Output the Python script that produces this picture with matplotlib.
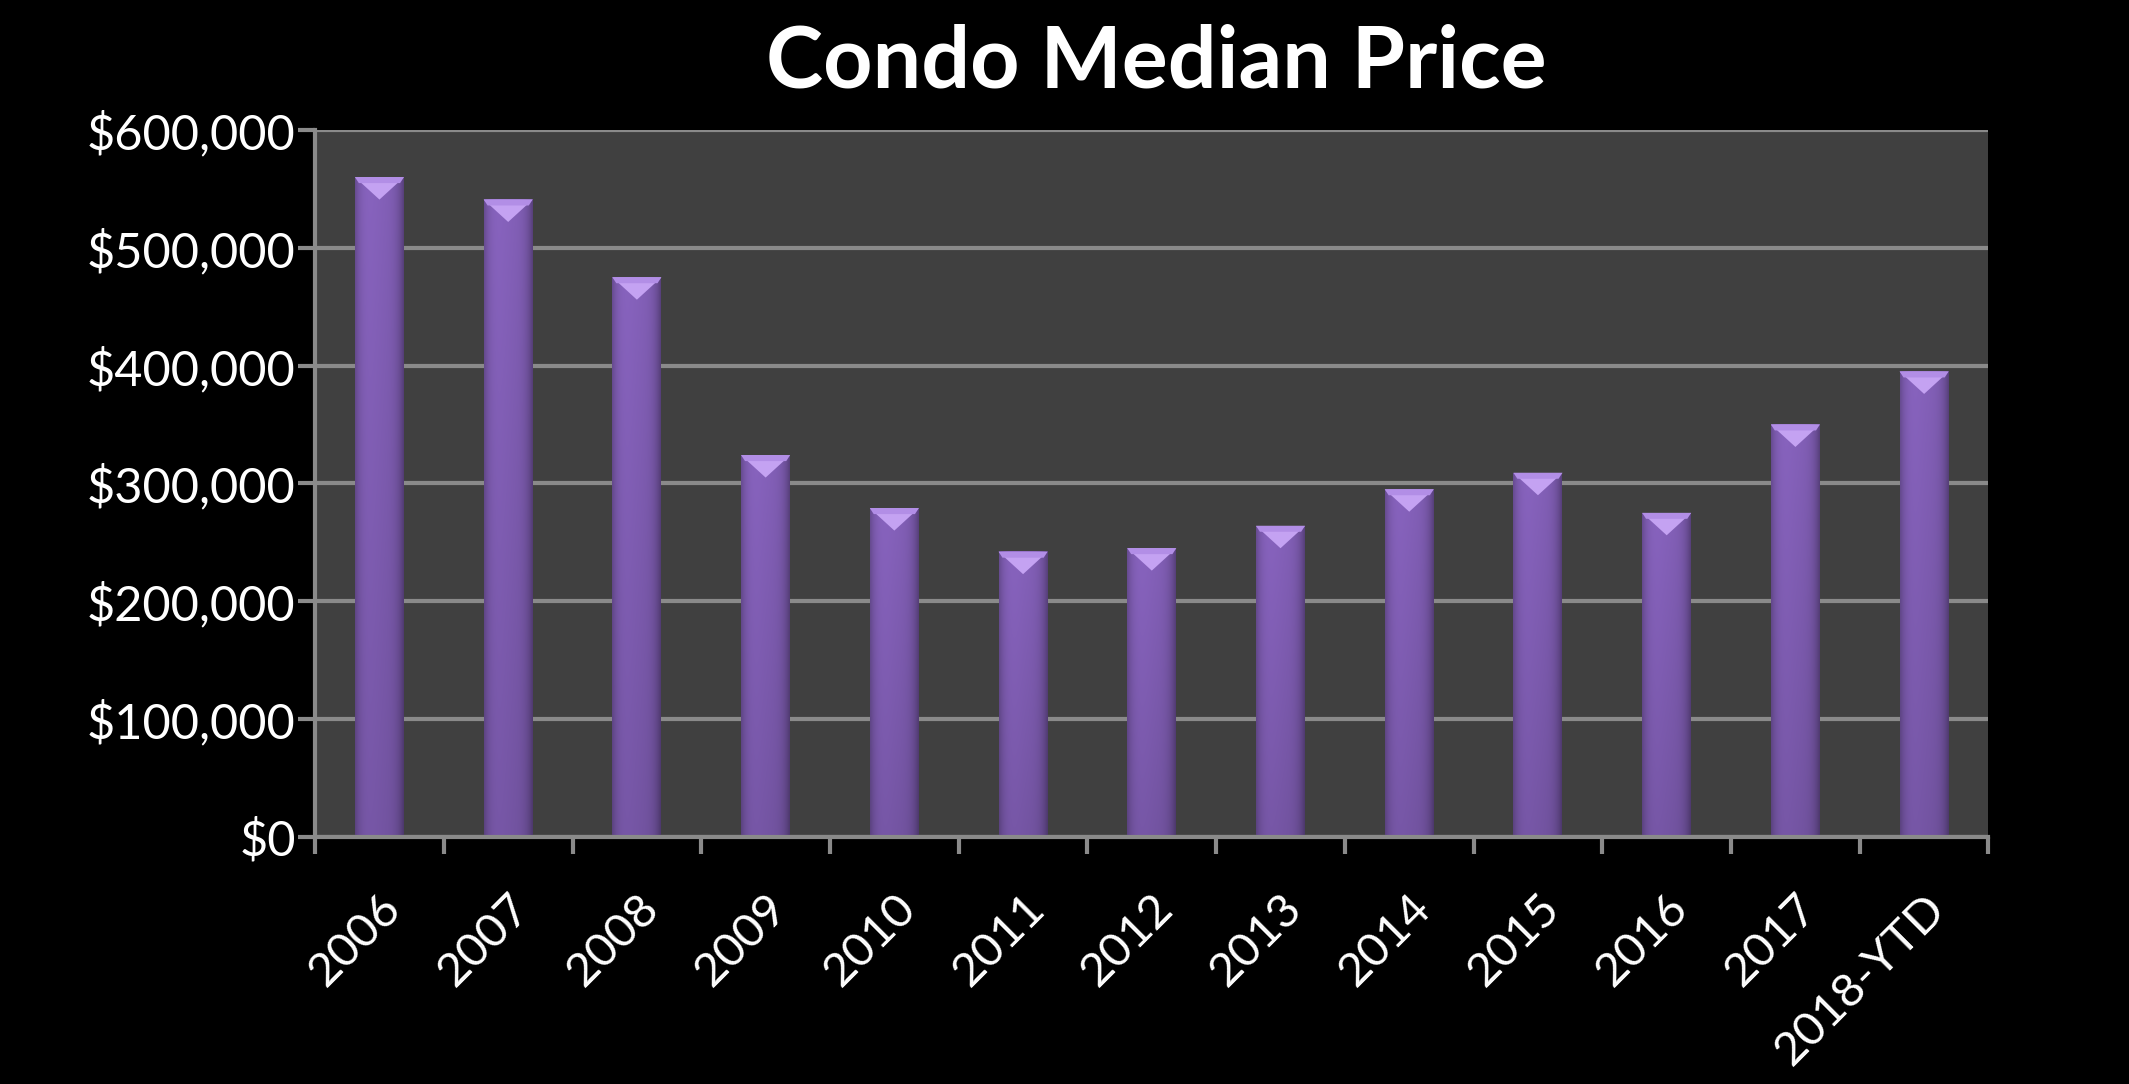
import matplotlib.pyplot as plt
import numpy as np
from matplotlib.patches import Polygon
from matplotlib.ticker import FuncFormatter, MultipleLocator

years = ['2006', '2007', '2008', '2009', '2010', '2011', '2012',
         '2013', '2014', '2015', '2016', '2017', '2018-YTD']
median_price = [560000, 541000, 475000, 324000, 279000, 242000, 245000,
                264000, 295000, 309000, 275000, 350000, 395000]

plt.rcParams['font.family'] = ['Lato', 'DejaVu Sans']

fig = plt.figure(figsize=(21.29, 10.84), dpi=100, facecolor='black')
ax = fig.add_axes([0.148, 0.228, 0.786, 0.652])
ax.set_facecolor('#404040')

# horizontal shading for a rounded bar look
xs = np.linspace(-1, 1, 64)
shade = 1 - 0.28 * xs ** 4 - 0.06 * xs
base = np.array([0.52, 0.38, 0.73])
ys = np.linspace(0, 1, 40)[:, None, None]
img = base * shade[None, :, None] * (0.88 + 0.12 * ys)
img = np.clip(img, 0, 1)

width = 0.38
cap = 19000
for i, v in enumerate(median_price):
    ax.imshow(img, extent=(i - width / 2, i + width / 2, 0, v), origin='lower',
              aspect='auto', zorder=2, interpolation='bicubic')
    ax.add_patch(Polygon([(i - width / 2, v), (i + width / 2, v), (i, v - cap)],
                         closed=True, facecolor='#c4a2f2', edgecolor='none', zorder=3))
    ax.add_patch(Polygon([(i - width / 2, v), (i + width / 2, v),
                          (i + width / 2 - 0.03, v - 5000), (i - width / 2 + 0.03, v - 5000)],
                         closed=True, facecolor='#b28ee6', edgecolor='none', zorder=3))

ax.set_xlim(-0.5, len(years) - 0.5)
ax.set_ylim(0, 600000)

ax.yaxis.set_major_locator(MultipleLocator(100000))
ax.yaxis.set_major_formatter(FuncFormatter(lambda v, p: '${:,.0f}'.format(v)))
ax.grid(axis='y', color='#8a8a8a', linewidth=3, zorder=1)
ax.set_axisbelow(True)

ax.set_xticks(range(len(years)))
ax.set_xticklabels(years, rotation=45, ha='right', rotation_mode='anchor')
ax.set_xticks(np.arange(-0.5, len(years), 1), minor=True)
ax.tick_params(axis='x', which='major', length=0, pad=36, labelsize=34, labelcolor='white')
ax.tick_params(axis='x', which='minor', length=12, width=3, color='#8a8a8a', direction='out')
ax.tick_params(axis='y', length=12, width=3, color='#8a8a8a', labelsize=35,
               labelcolor='white', pad=2)

for side in ['top', 'right']:
    ax.spines[side].set_visible(False)
for side in ['left', 'bottom']:
    ax.spines[side].set_color('#8a8a8a')
    ax.spines[side].set_linewidth(3)

fig.text(0.543, 0.942, 'Condo Median Price', color='white', fontsize=62,
         fontweight='bold', ha='center', va='center')

fig.savefig('out.png', facecolor='black')
